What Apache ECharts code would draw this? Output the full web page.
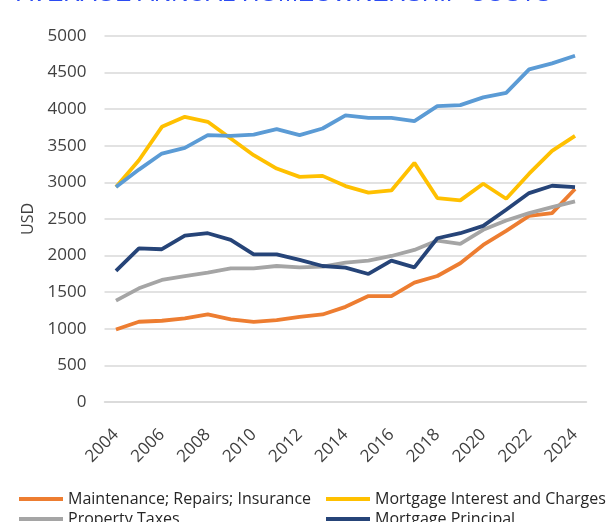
<!DOCTYPE html>
<html>
<head>
<meta charset="utf-8">
<script src="https://cdn.jsdelivr.net/npm/echarts@6/dist/echarts.min.js"></script>
<style>
  html, body { margin: 0; padding: 0; background: #fff; }
  #chart { width: 606px; height: 522px; }
</style>
</head>
<body>
<div id="chart"></div>
<script>
// years on the x axis
var years = ["2004", "2005", "2006", "2007", "2008", "2009", "2010", "2011", "2012", "2013", "2014",
  "2015", "2016", "2017", "2018", "2019", "2020", "2021", "2022", "2023", "2024"];

// values (USD)
var maintenance = [991, 1096, 1110, 1142, 1196, 1128, 1096, 1119, 1164, 1196, 1300,
  1447, 1447, 1630, 1721, 1895, 2146, 2338, 2543, 2580, 2909];
var mortgageInterest = [2938, 3303, 3759, 3896, 3828, 3600, 3372, 3189, 3075, 3089, 2950,
  2860, 2890, 3267, 2786, 2754, 2982, 2777, 3119, 3430, 3636];
var propertyTaxes = [1384, 1553, 1667, 1721, 1767, 1826, 1826, 1858, 1840, 1849, 1904,
  1932, 1995, 2078, 2205, 2160, 2352, 2479, 2580, 2662, 2740];
var mortgagePrincipal = [1790, 2100, 2087, 2274, 2306, 2215, 2018, 2018, 1941, 1858, 1836,
  1749, 1932, 1840, 2237, 2306, 2406, 2626, 2854, 2954, 2936];
var utilities = [2938, 3175, 3394, 3472, 3645, 3636, 3654, 3727, 3645, 3736, 3915,
  3882, 3882, 3837, 4042, 4055, 4161, 4224, 4544, 4626, 4731];

var names = ["Maintenance; Repairs; Insurance", "Mortgage Interest and Charges",
  "Property Taxes", "Mortgage Principal", "Utilities; Fuels; Public Services"];
var colors = ["#ED7D31", "#FFC000", "#A5A5A5", "#264478", "#5B9BD5"];

var font = "Open Sans";
var myChart = echarts.init(document.getElementById("chart"));

function line(i, data) {
  return {
    name: names[i],
    type: "line",
    data: data,
    symbol: "none",
    color: colors[i],
    lineStyle: { width: 3.8, color: colors[i] }
  };
}

var legendText = { fontFamily: font, fontSize: 16, color: "#262626" };

var option = {
  animation: false,
  title: {
    text: "AVERAGE ANNUAL HOMEOWNERSHIP COSTS",
    left: 12,
    top: -23,
    textStyle: { fontFamily: "Liberation Sans", fontSize: 24, fontWeight: "normal", color: "#2B4BF2" }
  },
  grid: { left: 104.5, right: 19.5, top: 36, bottom: 120 },
  legend: [
    {
      data: [names[0], names[2], names[4]],
      orient: "vertical",
      left: 14,
      top: 486,
      height: 200,
      icon: "rect",
      itemWidth: 44,
      itemHeight: 4,
      itemGap: 4,
      textStyle: legendText
    },
    {
      data: [names[1], names[3]],
      orient: "vertical",
      left: 321,
      top: 486,
      height: 200,
      icon: "rect",
      itemWidth: 44,
      itemHeight: 4,
      itemGap: 4,
      textStyle: legendText
    }
  ],
  xAxis: {
    type: "category",
    data: years,
    boundaryGap: true,
    axisLine: { lineStyle: { color: "#D9D9D9", width: 1.5 } },
    axisTick: { interval: 1, length: 5, lineStyle: { color: "#D9D9D9", width: 1.5 } },
    axisLabel: { interval: 1, rotate: 45, margin: 30, fontFamily: font, fontSize: 17, color: "#404040" }
  },
  yAxis: {
    type: "value",
    min: 0,
    max: 5000,
    interval: 500,
    name: "USD",
    nameLocation: "middle",
    nameRotate: 90,
    nameGap: 68,
    nameTextStyle: { fontFamily: font, fontSize: 16, color: "#404040" },
    axisLine: { show: false },
    axisTick: { show: false },
    axisLabel: { margin: 18, fontFamily: font, fontSize: 17, color: "#404040",
      formatter: function (v) { return String(v); } },
    splitLine: { lineStyle: { color: "#D9D9D9", width: 1.5 } }
  },
  series: [
    line(0, maintenance),
    line(1, mortgageInterest),
    line(2, propertyTaxes),
    line(3, mortgagePrincipal),
    line(4, utilities)
  ]
};

myChart.setOption(option);
</script>
</body>
</html>
